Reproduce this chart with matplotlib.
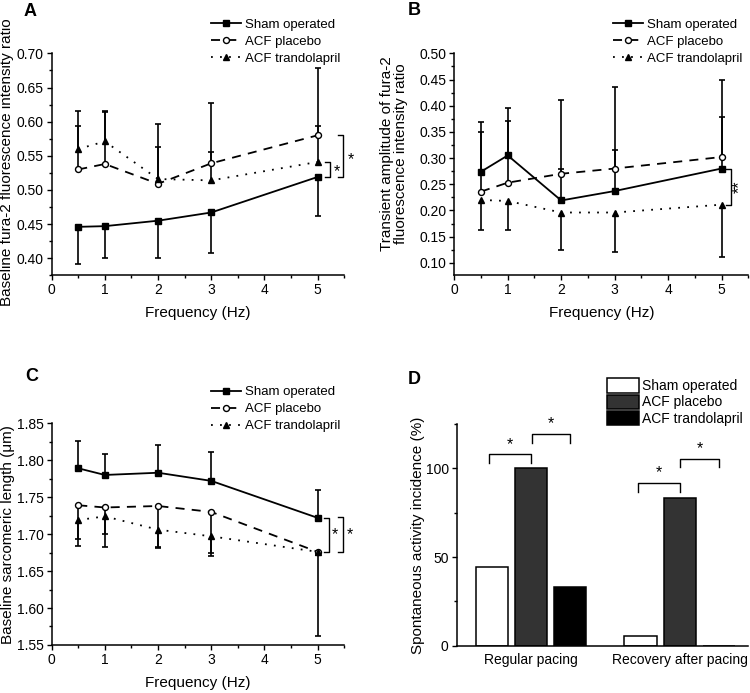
import numpy as np
import matplotlib
matplotlib.use('Agg')
import matplotlib.pyplot as plt
from matplotlib.ticker import MultipleLocator, FormatStrFormatter

plt.rcParams['font.family'] = ['Liberation Sans', 'DejaVu Sans']

# ---- data ----
freq = [0.5, 1, 2, 3, 5]
labels = ['Sham operated', 'ACF placebo', 'ACF trandolapril']

# Panel A: baseline fura-2 ratio (values, error-bar tips)
sham_a = [0.446, 0.447, 0.455, 0.467, 0.519]
sham_a_low = [0.392, 0.401, 0.400, 0.407, 0.462]
plac_a = [0.530, 0.538, 0.509, 0.539, 0.580]
plac_a_high = [0.594, 0.615, 0.563, 0.628, 0.678]
tran_a = [0.560, 0.571, 0.516, 0.514, 0.541]
tran_a_high = [0.615, 0.614, 0.596, 0.556, 0.594]

# Panel B: transient amplitude
sham_b = [0.274, 0.305, 0.219, 0.237, 0.280]
sham_b_high = [0.369, 0.395, 0.410, 0.435, 0.449]
plac_b = [0.236, 0.253, 0.270, 0.280, 0.302]
plac_b_high = [0.350, 0.371, 0.280, 0.315, 0.379]
tran_b = [0.220, 0.218, 0.196, 0.196, 0.211]
tran_b_low = [0.162, 0.162, 0.124, 0.121, 0.111]

# Panel C: sarcomere length
sham_c = [1.789, 1.780, 1.783, 1.772, 1.722]
sham_c_high = [1.826, 1.809, 1.820, 1.811, 1.760]
plac_c = [1.739, 1.736, 1.738, 1.730, 1.676]
plac_c_low = [1.684, 1.682, 1.682, 1.671, 1.672]
tran_c = [1.719, 1.724, 1.706, 1.697, 1.676]
tran_c_low = [1.694, 1.700, 1.681, 1.674, 1.562]

# Panel D: spontaneous activity incidence (%)
groups = ['Regular pacing', 'Recovery after pacing']
sham_d = [44.4, 5.6]
plac_d = [100, 83.3]
tran_d = [33.3, 0]

STY = [dict(ls='-', marker='s', mfc='k', mec='k'),
       dict(ls=(0, (5, 4)), marker='o', mfc='white', mec='k'),
       dict(ls=(0, (1, 4)), marker='^', mfc='k', mec='k')]


def series(ax, y, tip, style, label):
    y = np.asarray(y)
    tip = np.asarray(tip)
    d = np.abs(tip - y)
    if (tip > y).all():
        yerr = [np.zeros_like(d), d]
        hide = 0
    else:
        yerr = [d, np.zeros_like(d)]
        hide = 1
    eb = ax.errorbar(freq, y, yerr=yerr, fmt='none', ecolor='k', elinewidth=1.2,
                     capsize=2.5, capthick=1.2, zorder=2)
    eb[1][hide].set_visible(False)
    ax.plot(freq, y, color='k', lw=1.3, ms=4.3, label=label, zorder=3, **style)


def style_axes(ax):
    for s in ['top', 'right']:
        ax.spines[s].set_visible(False)
    for s in ['left', 'bottom']:
        ax.spines[s].set_linewidth(1.1)
    ax.tick_params(direction='out', length=3.8, width=1, labelsize=10, pad=2)
    ax.tick_params(which='minor', direction='out', length=2.3, width=1)


def freq_axes(ax, ylim):
    ax.set_xlim(0, 5.5)
    ax.set_ylim(*ylim)
    ax.yaxis.set_major_locator(MultipleLocator(0.05))
    ax.yaxis.set_minor_locator(MultipleLocator(0.025))
    ax.xaxis.set_major_locator(MultipleLocator(1))
    ax.xaxis.set_minor_locator(MultipleLocator(0.5))
    ax.yaxis.set_major_formatter(FormatStrFormatter('%.2f'))
    style_axes(ax)
    ax.set_xlabel('Frequency (Hz)', fontsize=11)
    ax.xaxis.set_label_coords(0.5, -0.14)


def bracket_v(ax, x, y0, y1, star, sx, sy, w=0.09, rot=0):
    ax.plot([x - w, x, x, x - w], [y0, y0, y1, y1], color='k', lw=1.0, clip_on=False)
    ax.text(sx, sy, star, ha='center', va='center', fontsize=11.5, rotation=rot, clip_on=False)


def freq_legend(ax, x, y):
    ax.legend(loc='upper left', bbox_to_anchor=(x, y), bbox_transform=ax.figure.transFigure,
              frameon=False, fontsize=9.5, handlelength=2.3, handletextpad=0.3,
              labelspacing=0.36, borderpad=0, borderaxespad=0)


fig = plt.figure(figsize=(7.5, 6.93), dpi=100)

# Panel A
axA = fig.add_axes([0.0689, 0.6027, 0.390, 0.3203])
series(axA, sham_a, sham_a_low, STY[0], labels[0])
series(axA, plac_a, plac_a_high, STY[1], labels[1])
series(axA, tran_a, tran_a_high, STY[2], labels[2])
freq_axes(axA, (0.375, 0.70))
axA.set_ylabel('Baseline fura-2 fluorescence intensity ratio', fontsize=11)
axA.yaxis.set_label_coords(-0.129, 0.51)
bracket_v(axA, 5.23, tran_a[4], sham_a[4], '*', 5.37, 0.527)
bracket_v(axA, 5.48, plac_a[4], sham_a[4], '*', 5.62, 0.545)
freq_legend(axA, 0.281, 0.973)
fig.text(0.031, 0.995, 'A', fontsize=13, fontweight='bold', va='top')

# Panel B
axB = fig.add_axes([0.6057, 0.6027, 0.392, 0.3203])
series(axB, sham_b, sham_b_high, STY[0], labels[0])
series(axB, plac_b, plac_b_high, STY[1], labels[1])
series(axB, tran_b, tran_b_low, STY[2], labels[2])
freq_axes(axB, (0.076, 0.50))
axB.set_ylabel('Transient amplitude of fura-2\nfluorescence intensity ratio', fontsize=11,
               linespacing=1.0)
axB.yaxis.set_label_coords(-0.157, 0.55)
bracket_v(axB, 5.18, sham_b[4], tran_b[4], '**', 5.33, 0.245, rot=90)
freq_legend(axB, 0.817, 0.973)
fig.text(0.543, 0.997, 'B', fontsize=13, fontweight='bold', va='top')

# Panel C
axC = fig.add_axes([0.0689, 0.0693, 0.390, 0.320])
series(axC, sham_c, sham_c_high, STY[0], labels[0])
series(axC, plac_c, plac_c_low, STY[1], labels[1])
series(axC, tran_c, tran_c_low, STY[2], labels[2])
freq_axes(axC, (1.55, 1.85))
axC.set_ylabel('Baseline sarcomeric length (\u03bcm)', fontsize=11)
axC.yaxis.set_label_coords(-0.125, 0.5)
bracket_v(axC, 5.21, sham_c[4], plac_c[4], '*', 5.33, 1.699)
bracket_v(axC, 5.48, sham_c[4] + 0.001, plac_c[4], '*', 5.60, 1.699)
freq_legend(axC, 0.281, 0.443)
fig.text(0.033, 0.469, 'C', fontsize=13, fontweight='bold', va='top')

# Panel D
axD = fig.add_axes([0.609, 0.0683, 0.388, 0.3196])
gx = np.arange(len(groups))
bw = 0.217
off = 0.263
axD.bar(gx - off, sham_d, bw, color='white', edgecolor='k', lw=1.1, label=labels[0])
axD.bar(gx, plac_d, bw, color='#333333', edgecolor='k', lw=1.1, label=labels[1])
axD.bar(gx + off, tran_d, bw, color='black', edgecolor='k', lw=1.1, label=labels[2])
axD.set_xlim(-0.499, 1.458)
axD.set_ylim(0, 125)
axD.set_xticks(gx)
axD.set_xticklabels(groups)
axD.yaxis.set_major_locator(MultipleLocator(50))
axD.yaxis.set_minor_locator(MultipleLocator(25))
style_axes(axD)
axD.tick_params(axis='x', length=0, pad=5)
axD.set_ylabel('Spontaneous activity incidence (%)', fontsize=11)
axD.yaxis.set_label_coords(-0.109, 0.5)
# significance brackets between neighbouring bars
for xl, xr, yt in [(-off - 0.02, 0, 108), (0.005, off, 119.5),
                   (1 - off - 0.02, 1, 92), (1.005, 1 + off, 105.6)]:
    axD.plot([xl, xl, xr, xr], [yt - 5, yt, yt, yt - 5], color='k', lw=1.0, clip_on=False)
    axD.text((xl + xr) / 2, yt + 1.5, '*', ha='center', va='bottom', fontsize=11.5)
axD.legend(loc='upper left', bbox_to_anchor=(0.809, 0.454), bbox_transform=fig.transFigure,
           frameon=False, fontsize=10, handlelength=2.3, handleheight=1.2,
           handletextpad=0.25, labelspacing=0.1, borderpad=0, borderaxespad=0)
fig.text(0.543, 0.465, 'D', fontsize=13, fontweight='bold', va='top')

plt.savefig('out.png', dpi=100)
